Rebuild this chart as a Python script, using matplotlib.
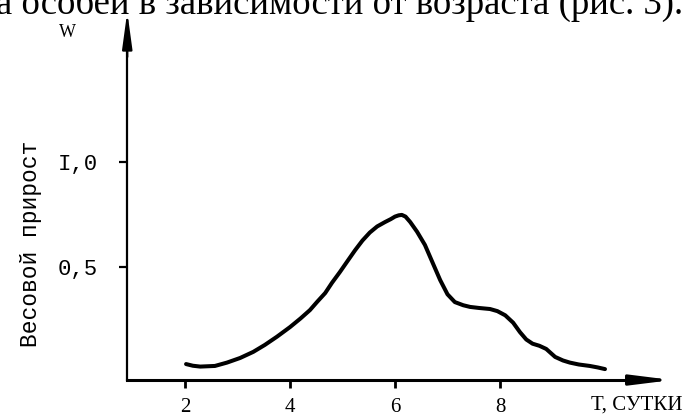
import matplotlib
matplotlib.use('Agg')
import matplotlib.pyplot as plt

# weight gain curve
days = [2.02, 2.15, 2.29, 2.57, 2.8, 3.05, 3.3, 3.52, 3.75, 4.0, 4.2, 4.38, 4.52, 4.67, 4.8,
        4.95, 5.1, 5.24, 5.38, 5.52, 5.66, 5.81, 5.92, 6.0, 6.07, 6.13, 6.2, 6.29, 6.42,
        6.57, 6.7, 6.86, 7.0, 7.14, 7.3, 7.43, 7.6, 7.81, 7.95, 8.1, 8.25, 8.38, 8.5, 8.62,
        8.75, 8.88, 9.05, 9.2, 9.33, 9.5, 9.71, 9.86, 10.0]
gain = [0.038, 0.030, 0.026, 0.029, 0.045, 0.067, 0.096, 0.129, 0.168, 0.214, 0.255, 0.295,
        0.335, 0.376, 0.425, 0.476, 0.53, 0.58, 0.626, 0.664, 0.693, 0.714, 0.728, 0.740,
        0.746, 0.748, 0.740, 0.714, 0.668, 0.605, 0.53, 0.438, 0.37, 0.333, 0.318, 0.31,
        0.305, 0.30, 0.29, 0.27, 0.235, 0.19, 0.155, 0.135, 0.125, 0.11, 0.072, 0.055,
        0.045, 0.036, 0.029, 0.022, 0.014]

x_ticks = [2, 4, 6, 8]
y_ticks = [0.5, 1.0]
y_tick_labels = ['0,5', 'I,0']

serif = 'Liberation Serif'
mono = 'Liberation Mono'

fig = plt.figure(figsize=(6.88, 4.17), dpi=100)
ax = fig.add_axes([0, 0, 1, 1])
ax.set_xlim(-1.524, 11.581)
ax.set_ylim(-0.214, 1.771)

x0, y0 = 0.9, -0.038  # where the hand-drawn axes cross

ax.plot(days, gain, color='black', lw=2.9, solid_capstyle='round', solid_joinstyle='round')

for s in ['top', 'right']:
    ax.spines[s].set_visible(False)
ax.spines['left'].set_position(('data', x0))
ax.spines['bottom'].set_position(('data', y0))
ax.spines['left'].set_bounds(y0, 1.55)
ax.spines['bottom'].set_bounds(x0, 10.9)
ax.spines['left'].set_linewidth(1.6)
ax.spines['bottom'].set_linewidth(2.2)

# arrowheads
ax.annotate('', xy=(x0, 1.715), xytext=(x0, 1.5),
            arrowprops=dict(arrowstyle='-|>,head_length=2.2,head_width=0.3', color='black',
                            lw=1.6, shrinkA=0, shrinkB=0))
ax.annotate('', xy=(11.28, y0), xytext=(10.7, y0),
            arrowprops=dict(arrowstyle='-|>,head_length=2.4,head_width=0.3', color='black',
                            lw=2.2, shrinkA=0, shrinkB=0))

ax.set_xticks(x_ticks)
ax.set_xticklabels([str(t) for t in x_ticks], fontfamily=serif, fontsize=15)
ax.set_yticks(y_ticks)
ax.set_yticklabels(y_tick_labels, fontfamily=mono, fontsize=16)
ax.tick_params(axis='x', direction='out', length=6, width=2.0, pad=7)
ax.tick_params(axis='y', direction='out', length=6, width=1.6, pad=15)

ax.text(-0.23, 1.615, 'W', fontfamily=serif, fontsize=13, ha='center', va='center')
ax.text(10.61, -0.157, 'Т, СУТКИ', fontfamily=serif, fontsize=15, ha='center', va='center')
ax.text(-0.934, 0.61, 'Весовой прирост', fontfamily=mono, fontsize=16.5,
        rotation=90, ha='center', va='center')

# line of running text cut off by the top edge of the scan
fig.text(0.993, 1 - 14 / 417, 'а особей в зависимости от возраста (рис. 3).',
         fontfamily=serif, fontsize=26.5, ha='right', va='baseline')

fig.savefig('out.png', dpi=100)
